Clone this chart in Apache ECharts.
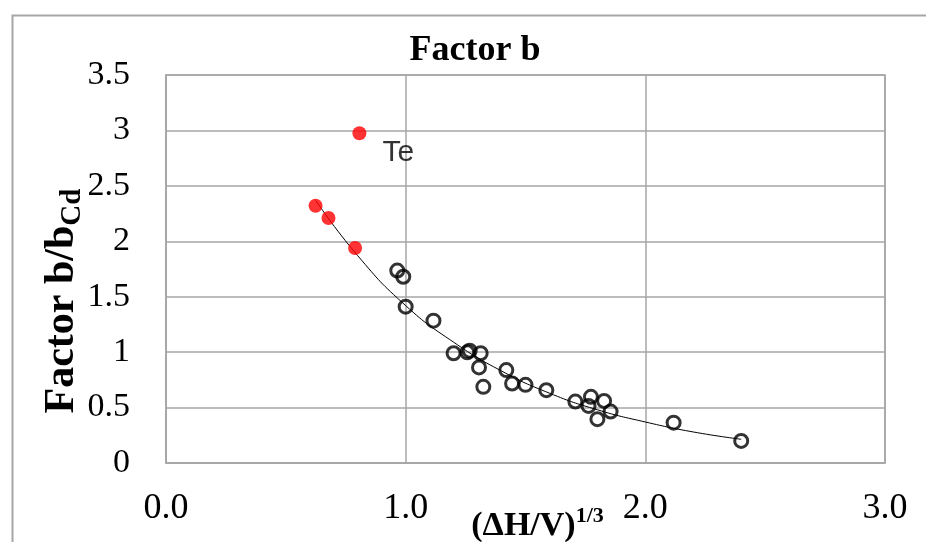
<!DOCTYPE html>
<html><head><meta charset="utf-8">
<script src="https://cdn.jsdelivr.net/npm/echarts@6/dist/echarts.min.js"></script>
<style>html,body{margin:0;padding:0;background:#fff}#c{width:926px;height:542px}</style>
</head><body><div id="c"></div>
<script>
const xTicks = [0, 1, 2, 3];
const yTicks = [0, 0.5, 1, 1.5, 2, 2.5, 3, 3.5];
const redX = [0.624, 0.678, 0.789, 0.807];
const redY = [2.32, 2.21, 1.94, 2.975];
const redLabels = ['', '', '', 'Te'];
const openX = [0.965, 0.99, 1.0, 1.116, 1.20, 1.257, 1.267, 1.313, 1.306, 1.324, 1.42, 1.444, 1.50, 1.587, 1.708, 1.773, 1.763, 1.828, 1.80, 1.855, 2.118, 2.40];
const openY = [1.736, 1.68, 1.41, 1.284, 0.99, 0.998, 1.013, 0.99, 0.862, 0.687, 0.838, 0.717, 0.705, 0.657, 0.554, 0.597, 0.515, 0.56, 0.395, 0.464, 0.364, 0.199];
const trendX = [0.624, 0.8, 1.0, 1.2, 1.4, 1.6, 1.8, 2.0, 2.2, 2.4];
const trendY = [2.37, 1.87, 1.42, 1.09, 0.83, 0.63, 0.48, 0.37, 0.28, 0.214];

const gridGray = '#a6a6a6';
const serif = '"Liberation Serif", "Times New Roman", serif';
const chart = echarts.init(document.getElementById('c'));
chart.setOption({
  animation: false,
  graphic: [{
    type: 'rect', left: 10, top: 13, shape: {width: 960, height: 600},
    style: {fill: 'none', stroke: gridGray, lineWidth: 2}, silent: true, z: -1
  }],
  title: {
    text: 'Factor b', left: 470, top: 28, textAlign: 'center',
    textStyle: {fontFamily: serif, fontWeight: 'bold', fontSize: 36, color: '#000'}
  },
  grid: {left: 166, right: 41, top: 75, bottom: 79, show: true, borderColor: gridGray, borderWidth: 1.5, outerBoundsMode: 'none', containLabel: false},
  xAxis: {
    type: 'value', min: xTicks[0], max: xTicks[xTicks.length - 1], interval: 1,
    axisLine: {show: true, lineStyle: {color: gridGray, width: 1.5}},
    axisTick: {show: false},
    splitLine: {show: true, lineStyle: {color: gridGray, width: 1.5}},
    axisLabel: {margin: 28, fontFamily: serif, fontSize: 36, color: '#000', formatter: v => v.toFixed(1)},
    name: '{m|(ΔH/V)}{s|1/3}', nameLocation: 'middle', nameGap: 42, nameMoveOverlap: false,
    nameTextStyle: {
      padding: [0, 0, 0, 24],
      rich: {
        m: {fontFamily: serif, fontWeight: 'bold', fontSize: 34, color: '#000', verticalAlign: 'bottom', lineHeight: 38},
        s: {fontFamily: serif, fontWeight: 'bold', fontSize: 22, color: '#000', verticalAlign: 'top', lineHeight: 38}
      }
    }
  },
  yAxis: {
    type: 'value', min: yTicks[0], max: yTicks[yTicks.length - 1], interval: 0.5,
    axisLine: {show: true, lineStyle: {color: gridGray, width: 1.5}},
    axisTick: {show: false},
    splitLine: {show: true, lineStyle: {color: gridGray, width: 1.5}},
    axisLabel: {margin: 36, fontFamily: serif, fontSize: 34, color: '#000'},
    name: '{m|Factor b/b}{s|Cd}', nameLocation: 'middle', nameGap: 79, nameRotate: 90, nameMoveOverlap: false,
    nameTextStyle: {
      padding: [0, 64, 0, 0],
      rich: {
        m: {fontFamily: serif, fontWeight: 'bold', fontSize: 42, color: '#000', verticalAlign: 'top', lineHeight: 46},
        s: {fontFamily: serif, fontWeight: 'bold', fontSize: 29, color: '#000', verticalAlign: 'bottom', lineHeight: 46}
      }
    }
  },
  series: [
    {
      type: 'line', data: trendX.map((x, i) => [x, trendY[i]]), smooth: true, showSymbol: false,
      lineStyle: {color: '#000', width: 1}, z: 1, silent: true
    },
    {
      type: 'scatter', data: openX.map((x, i) => [x, openY[i]]), symbol: 'circle', symbolSize: 13,
      itemStyle: {color: 'rgba(0,0,0,0)', borderColor: '#000', borderWidth: 3}, z: 2
    },
    {
      type: 'scatter', data: redX.map((x, i) => [x, redY[i]]), symbol: 'circle', symbolSize: 14,
      itemStyle: {color: '#ff0000'}, z: 3,
      label: {
        show: true, position: 'inside', offset: [39, 20],
        formatter: p => redLabels[p.dataIndex],
        fontFamily: '"Liberation Sans", Arial, sans-serif', fontSize: 30, color: '#000'
      }
    }
  ]
});
</script></body></html>
